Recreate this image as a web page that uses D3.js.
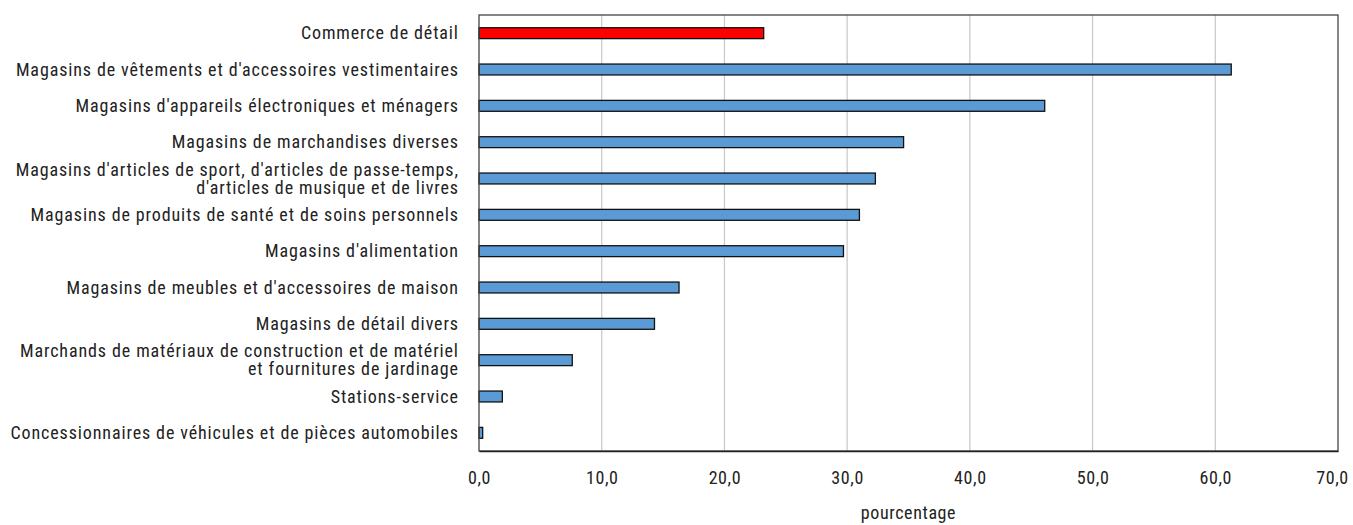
<!DOCTYPE html>
<html>
<head>
<meta charset="utf-8">
<script src="https://cdn.jsdelivr.net/npm/d3@7"></script>
<style>
  body { margin: 0; background: #fff; }
  svg text { font-family: "Roboto Condensed", "Liberation Sans Narrow", "Arial Narrow", sans-serif; fill: #222; }
</style>
</head>
<body>
<div id="chart"></div>
<script>
// categories, top to bottom (multi-line labels split on "|")
const categories = [
  "Commerce de détail",
  "Magasins de vêtements et d'accessoires vestimentaires",
  "Magasins d'appareils électroniques et ménagers",
  "Magasins de marchandises diverses",
  "Magasins d'articles de sport, d'articles de passe-temps,|d'articles de musique et de livres",
  "Magasins de produits de santé et de soins personnels",
  "Magasins d'alimentation",
  "Magasins de meubles et d'accessoires de maison",
  "Magasins de détail divers",
  "Marchands de matériaux de construction et de matériel|et fournitures de jardinage",
  "Stations-service",
  "Concessionnaires de véhicules et de pièces automobiles"
];
const values = [23.2, 61.3, 46.1, 34.6, 32.3, 31.0, 29.7, 16.3, 14.3, 7.6, 1.9, 0.3];
const xTicks = [0, 10, 20, 30, 40, 50, 60, 70];
const xTitle = "pourcentage";

const W = 1353, H = 525;
const margin = { top: 15, right: 15, bottom: 74, left: 479 };
const width = W - margin.left - margin.right;
const height = H - margin.top - margin.bottom;
const FS = 18;

const svg = d3.select("#chart").append("svg")
  .attr("width", W).attr("height", H);

const g = svg.append("g")
  .attr("transform", `translate(${margin.left},${margin.top})`);

const x = d3.scaleLinear().domain([0, 70]).range([0, width]);
const y = d3.scaleBand().domain(d3.range(categories.length)).range([0, height]).paddingInner(0.7).paddingOuter(0.35);

// vertical gridlines
g.selectAll(".grid")
  .data(xTicks.slice(1, -1))
  .join("line")
  .attr("x1", d => x(d)).attr("x2", d => x(d))
  .attr("y1", 0).attr("y2", height)
  .attr("stroke", "#c8c8c8").attr("stroke-width", 1.2);

// bars
g.selectAll(".bar")
  .data(values)
  .join("rect")
  .attr("x", x(0))
  .attr("y", (d, i) => y(i))
  .attr("width", d => x(d) - x(0))
  .attr("height", y.bandwidth())
  .attr("fill", (d, i) => i === 0 ? "#ff0000" : "#5b9bd5")
  .attr("stroke", "#111")
  .attr("stroke-width", 1.3);

// plot frame
g.append("rect")
  .attr("x", 0).attr("y", 0).attr("width", width).attr("height", height)
  .attr("fill", "none").attr("stroke", "#444").attr("stroke-width", 1.3);

// x axis
const xAxis = g.append("g")
  .attr("transform", `translate(0,${height})`)
  .call(d3.axisBottom(x).tickValues(xTicks).tickSize(0).tickPadding(20)
    .tickFormat(d => d3.format(".1f")(d).replace(".", ",")));
xAxis.select(".domain").attr("stroke", "#222").attr("stroke-width", 1.5);
xAxis.selectAll("text").attr("font-size", FS).attr("fill", "#222")
  .attr("letter-spacing", 0.6)
  .style("font-family", null);
// keep the last tick label inside the window
xAxis.selectAll(".tick").filter(d => d === 70).select("text").attr("dx", -6);

g.append("text")
  .attr("x", width / 2).attr("y", height + 68)
  .attr("text-anchor", "middle").attr("font-size", FS)
  .attr("letter-spacing", 0.6)
  .text(xTitle);

// category labels
const labels = g.selectAll(".cat")
  .data(categories)
  .join("text")
  .attr("class", "cat")
  .attr("x", -21)
  .attr("y", (d, i) => y(i) + y.bandwidth() / 2)
  .attr("text-anchor", "end")
  .attr("font-size", FS);

labels.each(function (d) {
  const lines = d.split("|");
  const t = d3.select(this);
  lines.forEach((ln, k) => {
    t.append("tspan")
      .attr("x", -21)
      .attr("dy", k === 0 ? `${0.35 - (lines.length - 1) * 0.5}em` : "1.0em")
      .text(ln);
  });
});

// widen the condensed face a little so the longest label spans like the reference (~443px)
const ref = labels.filter((d, i) => i === 1).node();
const w = ref.getComputedTextLength();
const n = categories[1].length;
const ls = Math.max(0, (443 - w) / n);
labels.attr("letter-spacing", ls);
labels.selectAll("tspan").attr("x", -21 + ls);
</script>
</body>
</html>
